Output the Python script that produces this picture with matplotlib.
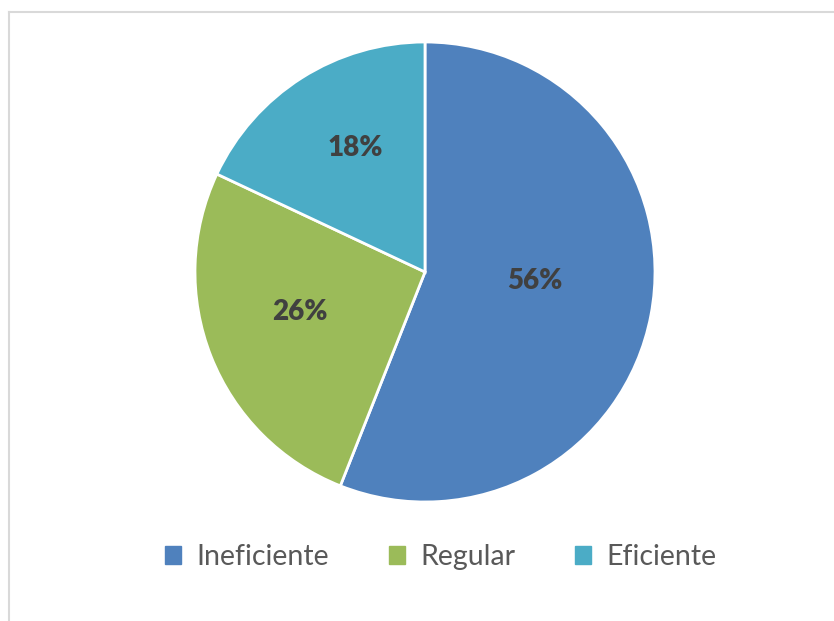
import numpy as np
import matplotlib.pyplot as plt
from matplotlib.lines import Line2D

categories = ['Ineficiente', 'Regular', 'Eficiente']
values = [56, 26, 18]
colors = ['#4F81BD', '#9BBB59', '#4BACC6']
# label placement: fraction of radius, angular nudge from wedge bisector (deg)
label_dist = [0.48, 0.57, 0.62]
label_nudge = [6, -4, -3]

W, H = 834, 621
fig = plt.figure(figsize=(W / 100, H / 100), dpi=100)
fig.patch.set_facecolor('white')

# chart frame (left and top edges visible only)
fig.add_artist(Line2D([9 / W, 9 / W], [0, 1 - 12 / H], color='#D9D9D9', lw=1.5))
fig.add_artist(Line2D([9 / W, 1], [1 - 12 / H, 1 - 12 / H], color='#D9D9D9', lw=1.5))

# pie centred at (425, 272) px, radius 230 px
cx, cy, r = 425, 272, 230
ax = fig.add_axes([(cx - r) / W, (H - cy - r) / H, 2 * r / W, 2 * r / H])
wedges, _ = ax.pie(values, colors=colors, startangle=90, counterclock=False,
                   wedgeprops=dict(edgecolor='white', linewidth=2))
ax.set_xlim(-1, 1)
ax.set_ylim(-1, 1)
ax.set_aspect('equal')
ax.axis('off')

for w, v, d, n in zip(wedges, values, label_dist, label_nudge):
    ang = np.deg2rad((w.theta1 + w.theta2) / 2 + n)
    ax.text(d * np.cos(ang), d * np.sin(ang), f'{v}%', ha='center', va='center',
            fontsize=20, fontweight='heavy', color='#404040', family='Lato')

handles = [plt.Rectangle((0, 0), 1, 1, color=c) for c in colors]
fig.legend(handles, categories, loc='center', bbox_to_anchor=(441 / W, 1 - 557 / H),
           ncol=3, frameon=False, handlelength=0.55, handleheight=0.55,
           handletextpad=0.55, columnspacing=2.1,
           prop=dict(family='Lato', size=20.5), labelcolor='#595959')

fig.savefig('out.png', dpi=100)
